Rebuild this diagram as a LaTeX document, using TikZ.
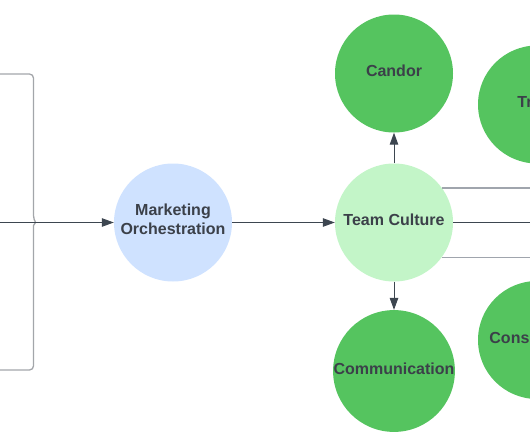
\documentclass[tikz,border=0pt]{standalone}
\usepackage{fontspec}
\setmainfont{Liberation Sans}
\usetikzlibrary{arrows.meta}
\definecolor{txt}{HTML}{3B4049}
\definecolor{bluefill}{HTML}{CFE2FF}
\definecolor{lightgreen}{HTML}{C3F5C8}
\definecolor{midgreen}{HTML}{55C45F}
\definecolor{conn}{HTML}{3D4650}
\definecolor{bracketgray}{HTML}{A3A6AA}
\definecolor{sidegray}{HTML}{A0A5AD}
\tikzset{
  bubble/.style={circle, minimum size=118pt, inner sep=0pt, text=txt,
    font=\fontsize{16}{19}\selectfont\bfseries, align=center, text depth=5pt},
  bluebubble/.style={bubble, fill=bluefill, text depth=7pt},
  tcbubble/.style={bubble, fill=lightgreen},
  greenbubble/.style={bubble, fill=midgreen},
  arrowconn/.style={draw=conn, line width=1pt, -{Triangle[length=12pt,width=8.5pt]}},
  plainconn/.style={draw=conn, line width=1pt},
  sideconn/.style={draw=sidegray, line width=1.6pt},
  bracketline/.style={draw=bracketgray, line width=1.3pt, rounded corners=4pt}
}
\begin{document}
\begin{tikzpicture}[x=1pt,y=-1pt]
\useasboundingbox (0,0) rectangle (530,442);
\clip (0,0) rectangle (530,442);
% nodes
\node[bluebubble] (mo) at (173,222.5) {Marketing\\Orchestration};
\node[tcbubble] (tc) at (394,222.5) {Team Culture};
\node[greenbubble] (candor) at (394,73.5) {Candor};
\node[greenbubble] (comm) at (394,371) {Communication};
\node[greenbubble] (trust) at (537,104.5) {Trust};
\node[greenbubble] (cons) at (537,340) {Consistency};
% coordinates
\coordinate (inL) at (0,222.5);
\coordinate (R) at (530,222.5);
\coordinate (bt) at (0,74);
\coordinate (bb) at (0,370);
% bracket
\path[bracketline] (bt) -- (33.5,74) -- (33.5,219.5) [sharp corners] -- (35.5,222.5) -- (33.5,225.5) [rounded corners=4pt] -- (33.5,370) -- (bb);
% connectors
\draw[arrowconn] (inL) -- (mo);
\draw[arrowconn] (mo) -- (tc);
\draw[arrowconn] (tc) -- (candor);
\draw[arrowconn] (tc) -- (comm);
\draw[plainconn] (tc.east) -- (R);
\draw[sideconn] (tc.36) -- (tc.36 -| R);
\draw[sideconn] (tc.-36) -- (tc.-36 -| R);
\end{tikzpicture}
\end{document}
